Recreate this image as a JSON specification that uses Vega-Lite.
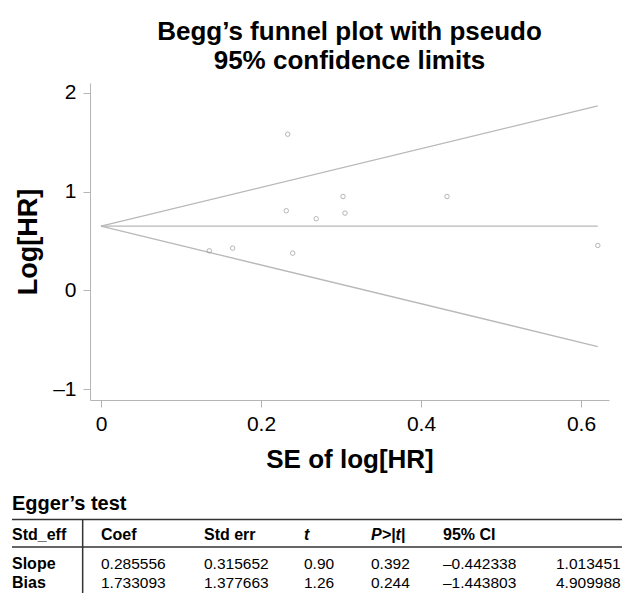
{
  "$schema": "https://vega.github.io/schema/vega-lite/v6.json",
  "width": 519,
  "height": 317,
  "padding": {"left": 11, "top": 18, "right": 0, "bottom": 0},
  "background": "white",
  "config": {
    "font": "Liberation Sans",
    "view": {"stroke": null},
    "axis": {"grid": false}
  },
  "title": {
    "text": ["Begg’s funnel plot with pseudo", "95% confidence limits"],
    "fontSize": 26,
    "fontWeight": "bold",
    "color": "black",
    "anchor": "middle",
    "frame": "group",
    "lineHeight": 29,
    "offset": 8
  },
  "datasets": {
    "studies": [
      {"se": 0.2334, "loghr": 1.580},
      {"se": 0.3025, "loghr": 0.950},
      {"se": 0.2316, "loghr": 0.806},
      {"se": 0.2690, "loghr": 0.725},
      {"se": 0.3050, "loghr": 0.782},
      {"se": 0.1354, "loghr": 0.401},
      {"se": 0.1646, "loghr": 0.428},
      {"se": 0.2396, "loghr": 0.377},
      {"se": 0.4325, "loghr": 0.950},
      {"se": 0.6210, "loghr": 0.455}
    ],
    "funnel": [
      {"line": "upper", "se": 0, "loghr": 0.65},
      {"line": "upper", "se": 0.621, "loghr": 1.867},
      {"line": "pooled", "se": 0, "loghr": 0.65},
      {"line": "pooled", "se": 0.621, "loghr": 0.65},
      {"line": "lower", "se": 0, "loghr": 0.65},
      {"line": "lower", "se": 0.621, "loghr": -0.567}
    ],
    "table": [
      {"row": -1, "col": 0, "text": "Egger’s test"},
      {"row": 0, "col": 0, "text": "Std_eff"},
      {"row": 0, "col": 1, "text": "Coef"},
      {"row": 0, "col": 2, "text": "Std err"},
      {"row": 0, "col": 3, "text": "t"},
      {"row": 0, "col": 4, "text": "P>|t|"},
      {"row": 0, "col": 5, "text": "95% CI"},
      {"row": 1, "col": 0, "text": "Slope"},
      {"row": 1, "col": 1, "text": "0.285556"},
      {"row": 1, "col": 2, "text": "0.315652"},
      {"row": 1, "col": 3, "text": "0.90"},
      {"row": 1, "col": 4, "text": "0.392"},
      {"row": 1, "col": 5, "text": "–0.442338"},
      {"row": 1, "col": 6, "text": "1.013451"},
      {"row": 2, "col": 0, "text": "Bias"},
      {"row": 2, "col": 1, "text": "1.733093"},
      {"row": 2, "col": 2, "text": "1.377663"},
      {"row": 2, "col": 3, "text": "1.26"},
      {"row": 2, "col": 4, "text": "0.244"},
      {"row": 2, "col": 5, "text": "–1.443803"},
      {"row": 2, "col": 6, "text": "4.909988"}
    ]
  },
  "layer": [
    {
      "layer": [
        {
          "data": {"name": "funnel"},
          "mark": {"type": "line", "color": "#b8b8b8", "strokeWidth": 1.3},
          "encoding": {
            "x": {
              "field": "se",
              "type": "quantitative",
              "scale": {"domain": [-0.01375, 0.635], "nice": false, "zero": false},
              "axis": {
                "values": [0, 0.2, 0.4, 0.6],
                "format": "~g",
                "labelFontSize": 21,
                "labelColor": "black",
                "labelPadding": 6,
                "tickSize": 7,
                "tickColor": "#b5b5b5",
                "domainColor": "#b5b5b5",
                "title": "SE of log[HR]",
                "titleFontSize": 26,
                "titleFontWeight": "bold",
                "titleColor": "black",
                "titlePadding": 12
              }
            },
            "y": {
              "field": "loghr",
              "type": "quantitative",
              "scale": {"domain": [-1.108, 2.098], "nice": false, "zero": false},
              "axis": {
                "values": [-1, 0, 1, 2],
                "labelExpr": "datum.value < 0 ? '–' + format(-datum.value, 'd') : format(datum.value, 'd')",
                "labelFontSize": 21,
                "labelColor": "black",
                "labelPadding": 7,
                "tickSize": 7,
                "tickColor": "#b5b5b5",
                "domainColor": "#b5b5b5",
                "title": "Log[HR]",
                "titleFontSize": 27,
                "titleFontWeight": "bold",
                "titleColor": "black",
                "titlePadding": 10
              }
            },
            "detail": {"field": "line", "type": "nominal"}
          }
        },
        {
          "data": {"name": "studies"},
          "mark": {"type": "point", "shape": "circle", "filled": false, "size": 20, "stroke": "#8c8c8c", "strokeWidth": 0.9},
          "encoding": {
            "x": {"field": "se", "type": "quantitative"},
            "y": {"field": "loghr", "type": "quantitative"}
          }
        }
      ]
    },
    {
      "data": {"name": "table"},
      "encoding": {
        "x": {
          "field": "col",
          "type": "quantitative",
          "scale": {"domain": [0, 1, 2, 3, 4, 5, 6, 7], "range": [-78, 11, 114, 214, 281, 353, 466, 533], "nice": false, "zero": false},
          "axis": null
        },
        "y": {
          "field": "row",
          "type": "quantitative",
          "scale": {"domain": [-1, 0, 1, 2], "range": [421, 452, 480.7, 499.7], "nice": false, "zero": false},
          "axis": null
        }
      },
      "layer": [
        {
          "transform": [{"filter": "datum.row == -1"}],
          "mark": {"type": "text", "align": "left", "baseline": "middle", "fontSize": 20, "fontWeight": "bold", "color": "black"},
          "encoding": {"text": {"field": "text", "type": "nominal"}}
        },
        {
          "transform": [{"filter": "(datum.row == 0 && datum.col != 3 && datum.col != 4) || (datum.row > 0 && datum.col == 0)"}],
          "mark": {"type": "text", "align": "left", "baseline": "middle", "fontSize": 16, "fontWeight": "bold", "color": "black"},
          "encoding": {"text": {"field": "text", "type": "nominal"}}
        },
        {
          "transform": [{"filter": "datum.row == 0 && (datum.col == 3 || datum.col == 4)"}],
          "mark": {"type": "text", "align": "left", "baseline": "middle", "fontSize": 16, "fontWeight": "bold", "fontStyle": "italic", "color": "black"},
          "encoding": {"text": {"field": "text", "type": "nominal"}}
        },
        {
          "transform": [{"filter": "datum.row > 0 && datum.col > 0"}],
          "mark": {"type": "text", "align": "left", "baseline": "middle", "fontSize": 15.5, "color": "black"},
          "encoding": {"text": {"field": "text", "type": "nominal"}}
        },
        {
          "transform": [{"filter": "datum.row == -1"}],
          "mark": {"type": "rule", "color": "#333333", "strokeWidth": 1.5},
          "encoding": {
            "x": {"datum": 0, "type": "quantitative"},
            "x2": {"datum": 7},
            "y": {"datum": -0.5, "type": "quantitative"}
          }
        },
        {
          "transform": [{"filter": "datum.row == -1"}],
          "mark": {"type": "rule", "color": "#333333", "strokeWidth": 1.5},
          "encoding": {
            "x": {"datum": 0, "type": "quantitative"},
            "x2": {"datum": 7},
            "y": {"datum": 0.42, "type": "quantitative"}
          }
        },
        {
          "transform": [{"filter": "datum.row == -1"}],
          "mark": {"type": "rule", "color": "#333333", "strokeWidth": 1.5},
          "encoding": {
            "x": {"datum": 0.794, "type": "quantitative"},
            "y": {"datum": -0.5, "type": "quantitative"},
            "y2": {"datum": 2.6}
          }
        }
      ]
    }
  ],
  "resolve": {"scale": {"x": "independent", "y": "independent"}}
}
